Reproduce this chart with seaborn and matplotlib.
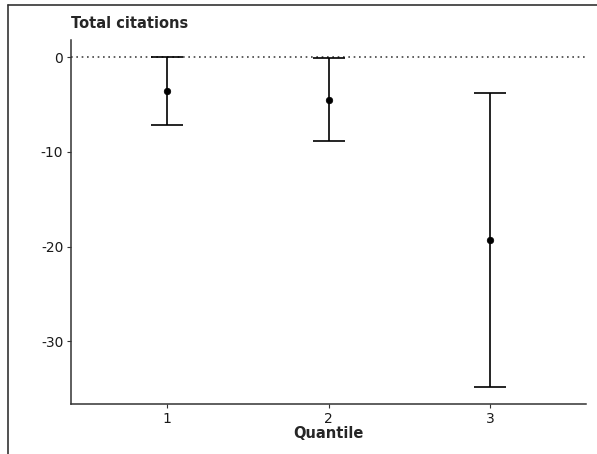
import matplotlib
matplotlib.use("Agg")
import matplotlib.pyplot as plt
import seaborn as sns
import pandas as pd
from matplotlib.lines import Line2D

quantiles = [1, 2, 3]
estimate = [-3.6, -4.5, -19.3]
lower = [-7.2, -8.85, -34.85]
upper = [0.0, -0.15, -3.8]

df = pd.DataFrame({"Quantile": quantiles, "est": estimate, "lo": lower, "hi": upper})

sns.set_style("white")
plt.rcParams["font.family"] = ["DejaVu Sans"]

fig = plt.figure(figsize=(5.97, 4.54), dpi=100)
ax = fig.add_axes([71 / 597, 1 - 404 / 454, (586 - 71) / 597, (404 - 40) / 454])

ax.axhline(0, color="#444444", linestyle=(0, (1, 2.2)), linewidth=1.2, zorder=1)

ax.errorbar(df["Quantile"], df["est"],
            yerr=[df["est"] - df["lo"], df["hi"] - df["est"]],
            fmt="none", ecolor="black", elinewidth=1.2, capsize=11.5, capthick=1.2, zorder=2)
sns.scatterplot(data=df, x="Quantile", y="est", color="black", s=22, edgecolor="black",
                linewidth=0.5, ax=ax, zorder=3, legend=False)

ax.set_xlim(0.405, 3.595)
ax.set_ylim(-36.6, 1.8)
ax.set_xticks(quantiles)
ax.set_xticklabels([str(q) for q in quantiles])
ax.set_yticks([0, -10, -20, -30])
ax.set_yticklabels(["0", "-10", "-20", "-30"])

for s in ["top", "right"]:
    ax.spines[s].set_visible(False)
for s in ["left", "bottom"]:
    ax.spines[s].set_color("#333333")
    ax.spines[s].set_linewidth(1.1)

ax.tick_params(axis="both", which="major", direction="out", length=3, width=0.8,
               color="#333333", labelsize=10, labelcolor="#1a1a1a", pad=2.5,
               bottom=True, left=True)
ax.set_xlabel("Quantile", fontsize=10.5, fontweight="bold", labelpad=0.5)
ax.set_ylabel("")
ax.set_title("Total citations", loc="left", fontsize=10.5, fontweight="bold", pad=8.5)

# outer frame (cropped)
fig.add_artist(Line2D([8 / 597, 8 / 597], [0, 1 - 5 / 454], transform=fig.transFigure,
                      color="#333333", linewidth=1.2))
fig.add_artist(Line2D([8 / 597, 1], [1 - 5 / 454, 1 - 5 / 454], transform=fig.transFigure,
                      color="#333333", linewidth=1.2))

fig.savefig("out.png", dpi=100)
